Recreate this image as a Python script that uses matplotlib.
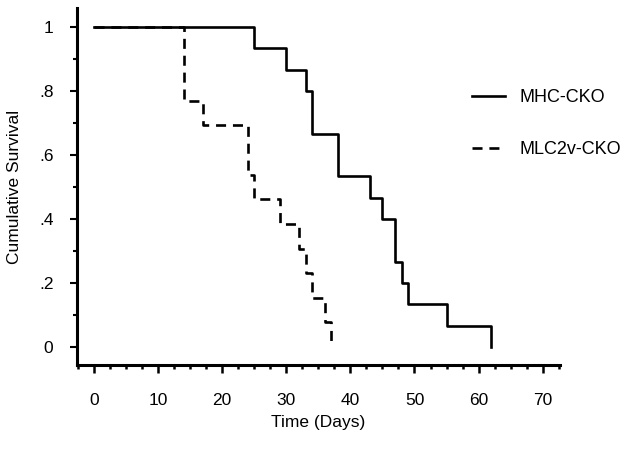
import matplotlib.pyplot as plt
from matplotlib.ticker import MultipleLocator, FixedLocator

plt.rcParams['font.family'] = ['Liberation Sans', 'DejaVu Sans']

# Kaplan-Meier steps (day, cumulative survival)
mhc_days = [0, 25, 30, 33, 34, 38, 43, 45, 47, 48, 49, 55, 62]
mhc_surv = [15, 14, 13, 12, 10, 8, 7, 6, 4, 3, 2, 1, 0]
mlc_days = [0, 14, 17, 24, 25, 29, 32, 33, 34, 36, 37]
mlc_surv = [13, 10, 9, 7, 6, 5, 4, 3, 2, 1, 0]

mhc_surv = [s / 15 for s in mhc_surv]
mlc_surv = [s / 13 for s in mlc_surv]

y_ticks = [0, 0.2, 0.4, 0.6, 0.8, 1.0]
y_labels = ['0', '.2', '.4', '.6', '.8', '1']
x_ticks = [0, 10, 20, 30, 40, 50, 60, 70]

W, H = 632, 449
fig = plt.figure(figsize=(W / 100, H / 100), dpi=100)
# axes box in pixels: left 77, right 560, top 8, bottom 365
ax = fig.add_axes([77 / W, (H - 365) / H, (560 - 77) / W, (365 - 8) / H])

l1, = ax.step(mhc_days, mhc_surv, where='post', color='black', lw=1.9)
l2, = ax.step(mlc_days, mlc_surv, where='post', color='black', lw=1.9,
              linestyle=(0, (3.8, 2.6)))

ax.set_xlim(-2.65, 72.7)
ax.set_ylim(-0.056, 1.059)

for s in ['top', 'right']:
    ax.spines[s].set_visible(False)
for s in ['left', 'bottom']:
    ax.spines[s].set_linewidth(2.2)

ax.xaxis.set_major_locator(FixedLocator(x_ticks))
ax.xaxis.set_minor_locator(MultipleLocator(2.5))
ax.yaxis.set_major_locator(FixedLocator(y_ticks))
ax.yaxis.set_minor_locator(MultipleLocator(0.1))
ax.set_yticklabels(y_labels)

ax.tick_params(axis='x', which='major', length=6, width=1.8, pad=14, labelsize=12.5)
ax.tick_params(axis='x', which='minor', length=3, width=1.8)
ax.tick_params(axis='y', which='major', length=5, width=1.5, pad=12, labelsize=12.5)
ax.tick_params(axis='y', which='minor', length=3, width=1.5)

ax.set_xlabel('Time (Days)', fontsize=12.5, labelpad=5)
ax.set_ylabel('Cumulative Survival', fontsize=12.5, labelpad=12)

fig.legend([l1, l2], ['MHC-CKO', 'MLC2v-CKO'], loc='upper left',
           bbox_to_anchor=(456 / W, 1 - 73 / H), frameon=False,
           fontsize=13, handlelength=1.8, labelspacing=1.95, handletextpad=0.8)

fig.savefig('out.png', dpi=100)
